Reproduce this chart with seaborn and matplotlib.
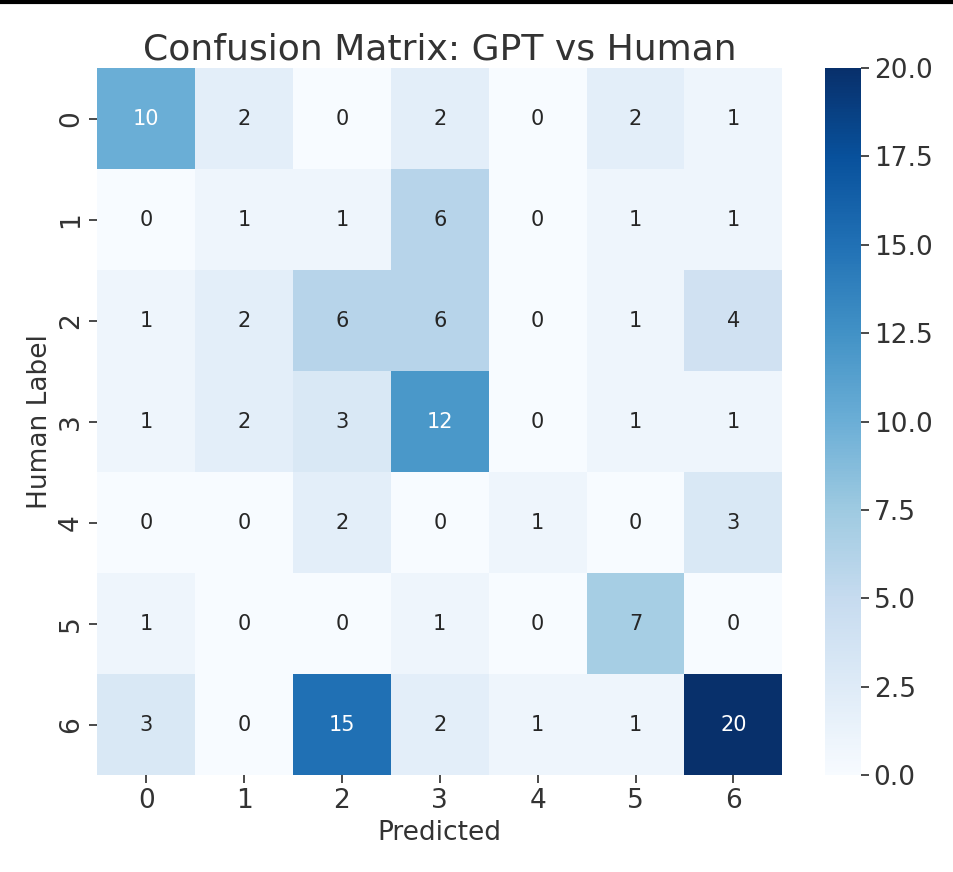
import numpy as np
import seaborn as sns
import matplotlib.pyplot as plt

labels = ["0", "1", "2", "3", "4", "5", "6"]
counts = [
    [10, 2, 0, 2, 0, 2, 1],
    [0, 1, 1, 6, 0, 1, 1],
    [1, 2, 6, 6, 0, 1, 4],
    [1, 2, 3, 12, 0, 1, 1],
    [0, 0, 2, 0, 1, 0, 3],
    [1, 0, 0, 1, 0, 7, 0],
    [3, 0, 15, 2, 1, 1, 20],
]

sns.set_theme(style="ticks")
plt.rcParams['font.family'] = ['DejaVu Sans']

fig = plt.figure(figsize=(9.54, 8.72), dpi=100)
ax = fig.add_axes([0.102, 0.111, 0.718, 0.811])
cax = fig.add_axes([0.865, 0.111, 0.037, 0.811])
sns.heatmap(np.array(counts), annot=True, fmt="d", cmap="Blues",
            xticklabels=labels, yticklabels=labels, ax=ax, cbar_ax=cax,
            annot_kws={"size": 15})
ax.set_title("Confusion Matrix: GPT vs Human", fontsize=26, color="#333333")
ax.set_xlabel("Predicted", fontsize=19, color="#333333")
ax.set_ylabel("Human Label", fontsize=19, color="#333333")
ax.tick_params(labelsize=19, colors="#333333")
cax.tick_params(labelsize=19, colors="#333333")
for s in cax.spines.values():
    s.set_visible(False)
fig.add_artist(plt.Line2D([0, 1], [0.998, 0.998], color="black", lw=3))
fig.savefig("out.png", dpi=100)
